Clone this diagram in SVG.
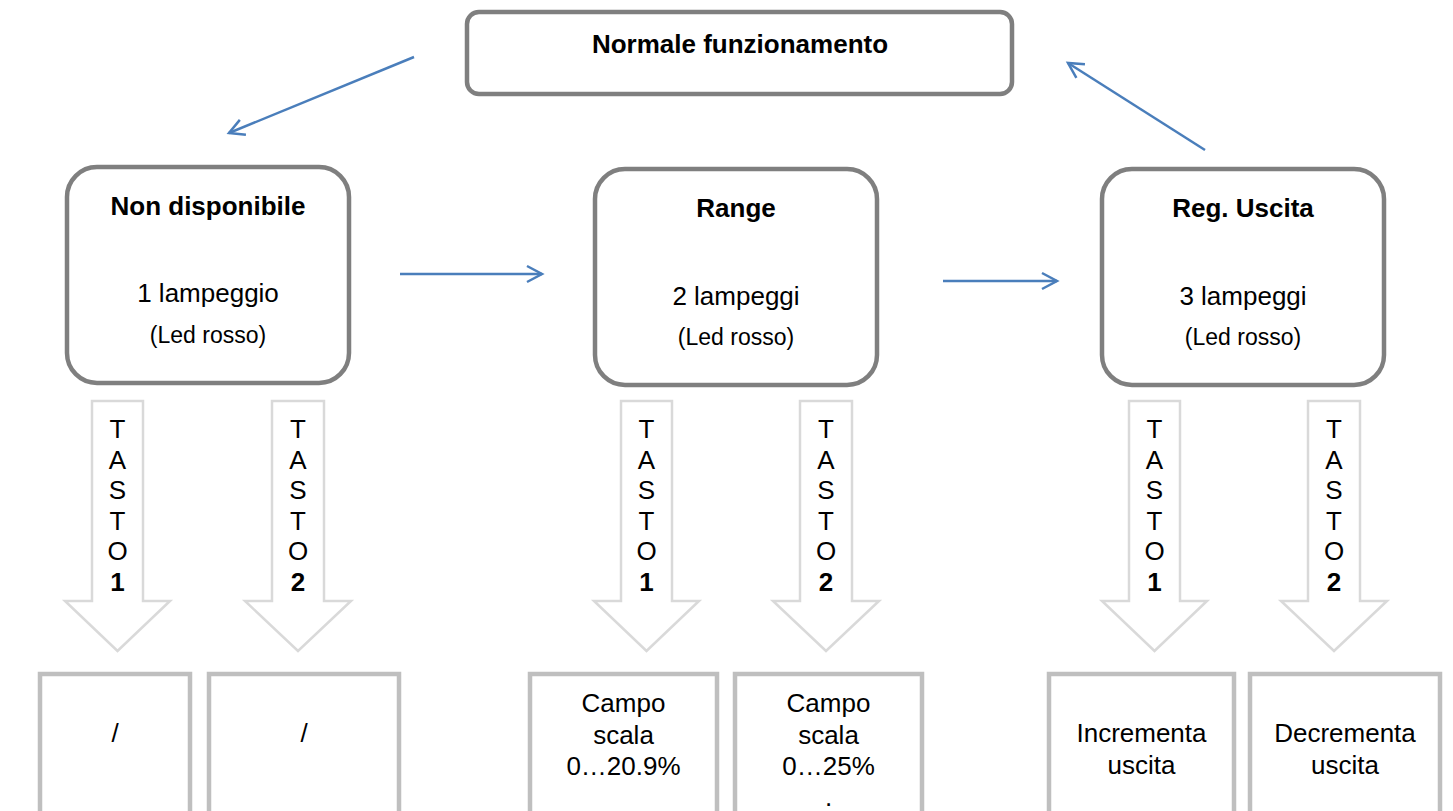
<svg xmlns="http://www.w3.org/2000/svg" width="1453" height="811" viewBox="0 0 1453 811">
<defs>
<style>
.state{fill:#fff;stroke:#7f7f7f;stroke-width:4.5}
.out{fill:#fff;stroke:#bfbfbf;stroke-width:4.5}
.blk{fill:#fff;stroke:#d9d9d9;stroke-width:2.5}
.con{fill:none;stroke:#4a7ebb;stroke-width:2.5}
text{font-family:"Liberation Sans",Arial,sans-serif;fill:#000;text-anchor:middle}
.b{font-weight:bold;font-size:26px}
.r{font-size:26px}
.s{font-size:23px}
</style>
<marker id="ah" markerUnits="userSpaceOnUse" markerWidth="24" markerHeight="24" viewBox="-20 -12 24 24" refX="0" refY="0" orient="auto">
<path d="M-15,-8 L0,0 L-15,8" fill="none" stroke="#4a7ebb" stroke-width="2.5"/>
</marker>
</defs>

<g id="connectors">
<line class="con" x1="414" y1="57" x2="229" y2="133" marker-end="url(#ah)"/>
<line class="con" x1="400" y1="274" x2="542" y2="274" marker-end="url(#ah)"/>
<line class="con" x1="943" y1="281" x2="1057" y2="281" marker-end="url(#ah)"/>
<line class="con" x1="1205" y1="150" x2="1068" y2="63" marker-end="url(#ah)"/>
</g>

<g id="normale">
<rect class="state" x="467" y="12" width="545" height="82" rx="12"/>
<text class="b" x="740" y="53">Normale funzionamento</text>
</g>

<g id="non-disponibile">
<rect class="state" x="67" y="167" width="282" height="216" rx="30"/>
<text class="b" x="208" y="215">Non disponibile</text>
<text class="r" x="208" y="302">1 lampeggio</text>
<text class="s" x="208" y="343">(Led rosso)</text>
</g>

<g id="range">
<rect class="state" x="595" y="169" width="282" height="216" rx="30"/>
<text class="b" x="736" y="217">Range</text>
<text class="r" x="736" y="305">2 lampeggi</text>
<text class="s" x="736" y="345">(Led rosso)</text>
</g>

<g id="reg-uscita">
<rect class="state" x="1102" y="169" width="282" height="216" rx="30"/>
<text class="b" x="1243" y="217">Reg. Uscita</text>
<text class="r" x="1243" y="305">3 lampeggi</text>
<text class="s" x="1243" y="345">(Led rosso)</text>
</g>

<g id="tasto1-a">
<path class="blk" d="M92,401 H143 V601 H170 L117.5,651 L65,601 H92 Z"/>
<text class="r" x="117.5"><tspan x="117.5" y="438">T</tspan><tspan x="117.5" y="468.5">A</tspan><tspan x="117.5" y="499">S</tspan><tspan x="117.5" y="529.5">T</tspan><tspan x="117.5" y="560">O</tspan><tspan x="117.5" y="590.5" font-weight="bold">1</tspan></text>
</g>
<g id="tasto2-a">
<path class="blk" d="M272,401 H324 V601 H351 L298,651 L245,601 H272 Z"/>
<text class="r" x="298"><tspan x="298" y="438">T</tspan><tspan x="298" y="468.5">A</tspan><tspan x="298" y="499">S</tspan><tspan x="298" y="529.5">T</tspan><tspan x="298" y="560">O</tspan><tspan x="298" y="590.5" font-weight="bold">2</tspan></text>
</g>
<g id="tasto1-b">
<path class="blk" d="M621,401 H672 V601 H699 L646.5,651 L594,601 H621 Z"/>
<text class="r" x="646.5"><tspan x="646.5" y="438">T</tspan><tspan x="646.5" y="468.5">A</tspan><tspan x="646.5" y="499">S</tspan><tspan x="646.5" y="529.5">T</tspan><tspan x="646.5" y="560">O</tspan><tspan x="646.5" y="590.5" font-weight="bold">1</tspan></text>
</g>
<g id="tasto2-b">
<path class="blk" d="M800,401 H852 V601 H879 L826,651 L773,601 H800 Z"/>
<text class="r" x="826"><tspan x="826" y="438">T</tspan><tspan x="826" y="468.5">A</tspan><tspan x="826" y="499">S</tspan><tspan x="826" y="529.5">T</tspan><tspan x="826" y="560">O</tspan><tspan x="826" y="590.5" font-weight="bold">2</tspan></text>
</g>
<g id="tasto1-c">
<path class="blk" d="M1129,401 H1180 V601 H1207 L1154.5,651 L1102,601 H1129 Z"/>
<text class="r" x="1154.5"><tspan x="1154.5" y="438">T</tspan><tspan x="1154.5" y="468.5">A</tspan><tspan x="1154.5" y="499">S</tspan><tspan x="1154.5" y="529.5">T</tspan><tspan x="1154.5" y="560">O</tspan><tspan x="1154.5" y="590.5" font-weight="bold">1</tspan></text>
</g>
<g id="tasto2-c">
<path class="blk" d="M1308,401 H1360 V601 H1387 L1334,651 L1281,601 H1308 Z"/>
<text class="r" x="1334"><tspan x="1334" y="438">T</tspan><tspan x="1334" y="468.5">A</tspan><tspan x="1334" y="499">S</tspan><tspan x="1334" y="529.5">T</tspan><tspan x="1334" y="560">O</tspan><tspan x="1334" y="590.5" font-weight="bold">2</tspan></text>
</g>

<g id="out1">
<rect class="out" x="40" y="674" width="150" height="160"/>
<text class="r" x="115" y="742">/</text>
</g>
<g id="out2">
<rect class="out" x="209" y="674" width="190" height="160"/>
<text class="r" x="304" y="742">/</text>
</g>
<g id="out3">
<rect class="out" x="530" y="674" width="187" height="160"/>
<text class="r" x="623.5"><tspan x="623.5" y="712">Campo</tspan><tspan x="623.5" y="743.5">scala</tspan><tspan x="623.5" y="775">0…20.9%</tspan></text>
</g>
<g id="out4">
<rect class="out" x="735" y="674" width="187" height="160"/>
<text class="r" x="828.5"><tspan x="828.5" y="712">Campo</tspan><tspan x="828.5" y="743.5">scala</tspan><tspan x="828.5" y="775">0…25%</tspan><tspan x="828.5" y="806">.</tspan></text>
</g>
<g id="out5">
<rect class="out" x="1049" y="674" width="185" height="160"/>
<text class="r" x="1141.5"><tspan x="1141.5" y="742">Incrementa</tspan><tspan x="1141.5" y="773.5">uscita</tspan></text>
</g>
<g id="out6">
<rect class="out" x="1250" y="674" width="190" height="160"/>
<text class="r" x="1345"><tspan x="1345" y="742">Decrementa</tspan><tspan x="1345" y="773.5">uscita</tspan></text>
</g>
</svg>
